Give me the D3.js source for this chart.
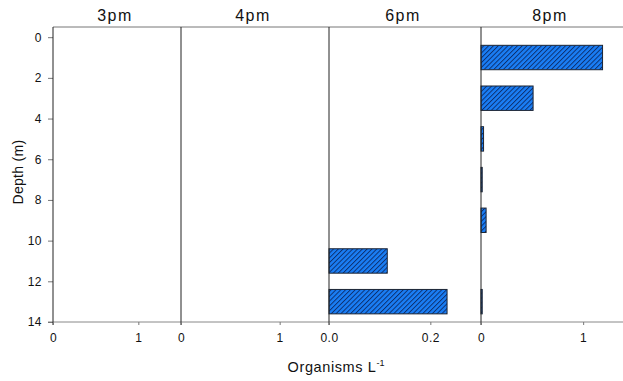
<!DOCTYPE html>
<html>
<head>
<meta charset="utf-8">
<script src="https://cdn.jsdelivr.net/npm/d3@7"></script>
<style>
  body { margin: 0; background: #fff; }
  svg { display: block; font-family: "Liberation Sans", Arial, sans-serif; }
</style>
</head>
<body>
<div id="chart"></div>
<script>
// data
const times = ["3pm", "4pm", "6pm", "8pm"];
const depths = [1, 3, 5, 7, 9, 11, 13];
const vals3pm = [0, 0, 0, 0, 0, 0, 0];
const vals4pm = [0, 0, 0, 0, 0, 0, 0];
const vals6pm = [0, 0, 0, 0, 0, 0.115, 0.233];
const vals8pm = [1.19, 0.51, 0.025, 0.012, 0.05, 0, 0.012];
const xMax = [1.5, 1.5, 0.3, 1.4];
const xTicks = [[0, 1], [0, 1], [0, 0.2], [0, 1]];
const yTicks = [0, 2, 4, 6, 8, 10, 12, 14];

const series = [vals3pm, vals4pm, vals6pm, vals8pm];

const width = 623;
const height = 381;
const edges = [53, 181, 329, 481, 624];
const plotTop = 27;
const plotBottom = 322;

const svg = d3
  .select("#chart")
  .append("svg")
  .attr("width", width)
  .attr("height", height);

const defs = svg.append("defs");
defs
  .append("pattern")
  .attr("id", "hatch")
  .attr("patternUnits", "userSpaceOnUse")
  .attr("width", 3.4)
  .attr("height", 3.4)
  .attr("patternTransform", "rotate(45)")
  .call((p) => {
    p.append("rect").attr("width", 3.4).attr("height", 3.4).attr("fill", "#1a7ef5");
    p.append("line")
      .attr("x1", 0.5).attr("y1", 0).attr("x2", 0.5).attr("y2", 3.4)
      .attr("stroke", "#0b2a66").attr("stroke-width", 0.9);
  });

const y = d3.scaleLinear().domain([-0.5, 14]).range([plotTop, plotBottom]);
const barH = y(1.2) - y(0);

// frame lines
svg.append("line")
  .attr("x1", edges[0]).attr("x2", width).attr("y1", plotTop).attr("y2", plotTop)
  .attr("stroke", "#777").attr("stroke-width", 1);
svg.append("line")
  .attr("x1", edges[0] - 5).attr("x2", width).attr("y1", plotBottom).attr("y2", plotBottom)
  .attr("stroke", "#888").attr("stroke-width", 1);

// y axis
const yAxis = svg.append("g").attr("transform", `translate(${edges[0]},0)`)
  .call(d3.axisLeft(y).tickValues(yTicks).tickSize(5).tickPadding(6));
yAxis.select(".domain").remove();
yAxis.selectAll(".tick line").attr("stroke", "#777");
yAxis.selectAll("text").attr("font-size", 12).attr("fill", "#111")
  .attr("letter-spacing", 0.5)
  .attr("font-family", "Liberation Sans, Arial, sans-serif");

times.forEach((t, i) => {
  const x = d3.scaleLinear().domain([0, xMax[i]]).range([edges[i], edges[i + 1]]);
  const g = svg.append("g");

  // bars
  const data = depths.map((d, j) => ({ depth: d, value: series[i][j] }))
    .filter((d) => d.value > 0);
  g.selectAll("rect.bar")
    .data(data)
    .join("rect")
    .attr("class", "bar")
    .attr("x", x(0))
    .attr("y", (d) => y(d.depth) - barH / 2)
    .attr("width", (d) => Math.max(x(d.value) - x(0), 1))
    .attr("height", barH)
    .attr("fill", "url(#hatch)")
    .attr("stroke", "#1c2433")
    .attr("stroke-width", 1);

  // panel divider / left axis line
  g.append("line")
    .attr("x1", edges[i]).attr("x2", edges[i])
    .attr("y1", plotTop).attr("y2", plotBottom + 3)
    .attr("stroke", "#222").attr("stroke-width", 1);

  // x axis
  const fmt = xMax[i] < 1 ? d3.format(".1f") : d3.format("d");
  const xa = svg.append("g").attr("transform", `translate(0,${plotBottom})`)
    .call(d3.axisBottom(x).tickValues(xTicks[i]).tickFormat(fmt).tickSize(3).tickPadding(8));
  xa.select(".domain").remove();
  xa.selectAll(".tick line").attr("stroke", "#777");
  xa.selectAll("text").attr("font-size", 12).attr("fill", "#111")
    .attr("letter-spacing", 0.5)
    .attr("font-family", "Liberation Sans, Arial, sans-serif");

  // panel title
  svg.append("text")
    .attr("x", (edges[i] + Math.min(edges[i + 1], width)) / 2 - 2)
    .attr("y", 21)
    .attr("text-anchor", "middle")
    .attr("font-size", 16)
    .attr("letter-spacing", 1.5)
    .attr("fill", "#111")
    .text(t);
});

// axis titles
svg.append("text")
  .attr("transform", "translate(23,172) rotate(-90)")
  .attr("text-anchor", "middle")
  .attr("font-size", 14)
  .attr("letter-spacing", 0.3)
  .attr("fill", "#111")
  .text("Depth (m)");

const xt = svg.append("text")
  .attr("x", 336)
  .attr("y", 372)
  .attr("text-anchor", "middle")
  .attr("font-size", 14.5)
  .attr("letter-spacing", 0.6)
  .attr("fill", "#111");
xt.append("tspan").text("Organisms L");
xt.append("tspan").attr("font-size", 9).attr("dy", -6).attr("letter-spacing", 0).text("-1");
</script>
</body>
</html>
